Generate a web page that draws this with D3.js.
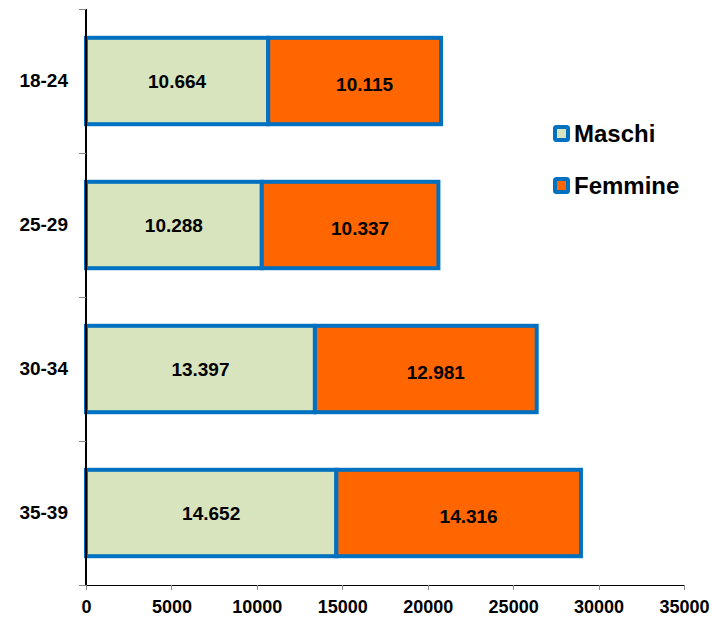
<!DOCTYPE html>
<html lang="it">
<head>
<meta charset="utf-8">
<title>Maschi / Femmine per classe di età</title>
<script src="https://d3js.org/d3.v7.min.js"></script>
<style>
  body { margin: 0; background: #fff; }
  text { font-family: "Liberation Sans", Arial, sans-serif; font-weight: bold; fill: #000; }
  .axis path, .axis line { shape-rendering: crispEdges; }
</style>
</head>
<body>
<svg width="713" height="617"></svg>
<script>
// data
var categories = ["18-24", "25-29", "30-34", "35-39"];
var maschi = [10664, 10288, 13397, 14652];
var femmine = [10115, 10337, 12981, 14316];
var seriesNames = ["Maschi", "Femmine"];
var xTicks = [0, 5000, 10000, 15000, 20000, 25000, 30000, 35000];

var colors = { Maschi: "#D7E4BD", Femmine: "#FF6600" };
var edge = "#0070C0";

var svg = d3.select("svg");

// plot box (note: "top" is reserved on window, so use other names)
var plotLeft = 86, plotRight = 684, plotTop = 9, plotBottom = 585;

var x = d3.scaleLinear().domain([0, 35000]).range([plotLeft, plotRight]);
var y = d3.scaleBand().domain(categories).range([plotTop, plotBottom]).paddingInner(0.4).paddingOuter(0.2);

// format like 10.664
var fmt = function(v) { return d3.format(",")(v).replace(/,/g, "."); };

// stacked rows
var rows = categories.map(function(c, i) {
  return { cat: c, segs: [
    { name: "Maschi", x0: 0, x1: maschi[i] },
    { name: "Femmine", x0: maschi[i], x1: maschi[i] + femmine[i] }
  ]};
});

var g = svg.append("g");
rows.forEach(function(r) {
  var gy = y(r.cat);
  g.selectAll(null).data(r.segs).enter().append("rect")
    .attr("x", function(d) { return x(d.x0); })
    .attr("y", gy)
    .attr("width", function(d) { return x(d.x1) - x(d.x0); })
    .attr("height", y.bandwidth())
    .attr("fill", function(d) { return colors[d.name]; })
    .attr("stroke", edge)
    .attr("stroke-width", 4);

  g.selectAll(null).data(r.segs).enter().append("text")
    .attr("x", function(d) { return (x(d.x0) + x(d.x1)) / 2 + (d.name === "Femmine" ? 10 : 0); })
    .attr("y", gy + y.bandwidth() / 2)
    .attr("dy", function(d) { return d.name === "Femmine" ? "0.52em" : "0.38em"; })
    .attr("text-anchor", "middle")
    .style("font-size", "19px")
    .text(function(d) { return fmt(d.x1 - d.x0); });
});

// x axis
var xAxis = svg.append("g").attr("class", "axis")
  .attr("transform", "translate(0," + plotBottom + ")")
  .call(d3.axisBottom(x).tickValues(xTicks).tickSize(5).tickPadding(10).tickFormat(d3.format("d")));
xAxis.select(".domain").attr("stroke", "#000").attr("stroke-width", 1.5);
xAxis.selectAll(".tick line").attr("stroke", "#888");
xAxis.selectAll(".tick text").style("font-size", "18px");

// y axis: labels centred on bands, ticks on boundaries
var yb = d3.scaleLinear().domain([0, categories.length]).range([plotTop, plotBottom]);
var yTicks = svg.append("g").attr("class", "axis")
  .attr("transform", "translate(" + plotLeft + ",0)")
  .call(d3.axisLeft(yb).ticks(categories.length).tickSize(7).tickFormat(""));
yTicks.select(".domain").attr("stroke", "#000").attr("stroke-width", 1.5).attr("d", "M0," + plotTop + "V" + plotBottom);
yTicks.selectAll(".tick line").attr("stroke", "#888");

var yLab = svg.append("g")
  .attr("transform", "translate(" + plotLeft + ",0)")
  .call(d3.axisLeft(y).tickSize(0).tickPadding(18));
yLab.select(".domain").remove();
yLab.selectAll(".tick text").style("font-size", "19px").attr("fill", "#000");

// legend
var leg = svg.append("g").attr("transform", "translate(555,127)");
var li = leg.selectAll("g").data(seriesNames).enter().append("g")
  .attr("transform", function(d, i) { return "translate(0," + (i * 52) + ")"; });
li.append("rect").attr("width", 13).attr("height", 13)
  .attr("rx", 1.5)
  .attr("fill", function(d) { return colors[d]; })
  .attr("stroke", edge).attr("stroke-width", 4);
li.append("text").attr("x", 19).attr("y", 15)
  .style("font-size", "24px")
  .text(function(d) { return d; });
</script>
</body>
</html>
